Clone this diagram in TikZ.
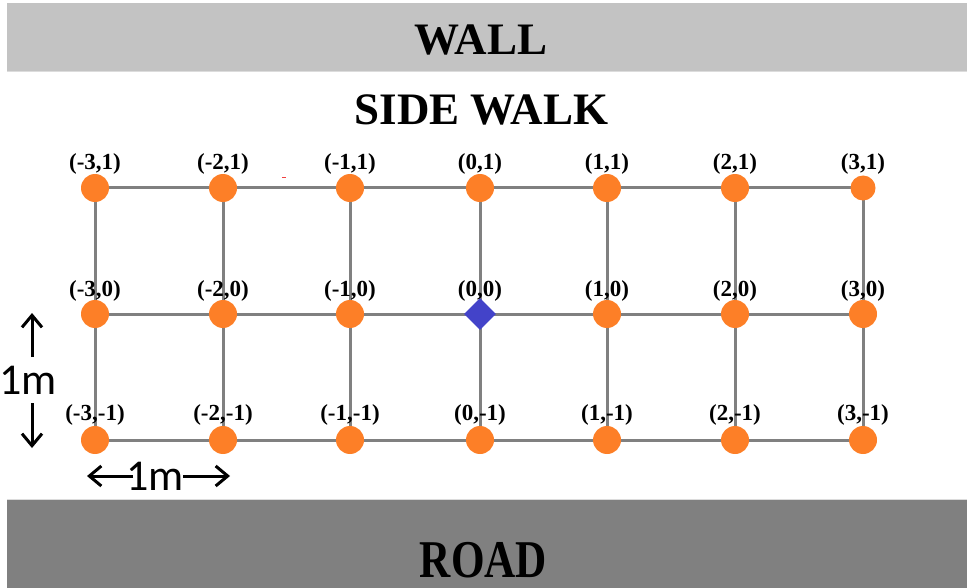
\documentclass[tikz,border=0pt]{standalone}
\usepackage{fontspec}
\setmainfont{Liberation Serif}
\newfontfamily\measfont{Carlito}
\usetikzlibrary{shapes.geometric,arrows.meta,backgrounds}

\definecolor{wallgray}{HTML}{C3C3C3}
\definecolor{roadgray}{HTML}{808080}
\definecolor{bandedge}{HTML}{DCDCDC}
\definecolor{gridgray}{HTML}{808080}
\definecolor{ptorange}{HTML}{FD7F27}
\definecolor{originblue}{HTML}{4343C9}
\definecolor{speck}{HTML}{F04040}

\begin{document}
\begin{tikzpicture}[x=1pt,y=-1pt,
  ptdot/.style={circle,fill=ptorange,inner sep=0pt,minimum size=28pt},
  ptsmall/.style={ptdot,minimum size=25pt},
  origin/.style={diamond,fill=originblue,inner sep=0pt,minimum width=32pt,minimum height=32pt},
  gridline/.style={draw=gridgray,line width=3pt},
  coordlbl/.style={font=\fontsize{23}{23}\selectfont\bfseries,anchor=base,inner sep=0pt},
  title/.style={font=\fontsize{45}{45}\selectfont\bfseries,anchor=base,inner sep=0pt},
  meas/.style={font=\measfont\fontsize{44}{44}\selectfont,inner sep=0pt},
  measarrow/.style={-{Straight Barb[length=12pt,width=20pt]},line width=3pt}
]
\useasboundingbox (0,0) rectangle (967,588);

% wall and road bands
\fill[wallgray] (7,3) rectangle (967,71);
\fill[bandedge] (7,71) rectangle (967,72.5);
\fill[bandedge] (7,498.5) rectangle (967,500);
\fill[roadgray] (7,500) rectangle (967,588);

\node[title] (wall) at (481,55) {WALL};
\node[title] (sidewalk) at (481.5,125) {SIDE WALK};
\node[title] (road) at (483.5,577) {\scalebox{0.96}[1.18]{ROAD}};

% grid points and their coordinate labels
\foreach \x [count=\i] in {95,223,350,480,607,735,863} {
  \foreach \y/\r/\d [count=\j] in {188/1/18,314/0/17,440/-1/20} {
    \pgfmathtruncatemacro\cv{\i-4}
    \ifnum\i\j=42 \def\shp{origin}\else
      \ifnum\i\j=71 \def\shp{ptsmall}\else\def\shp{ptdot}\fi
    \fi
    \node[\shp] (c\i-\j) at (\x,\y) {};
    \node[coordlbl] (l\i-\j) at (\x,\y-\d) {(\cv,\r)};
  }
}

% grid lines behind the points
\begin{scope}[on background layer]
  \foreach \j in {1,2,3} {
    \foreach \i [evaluate=\i as \k using int(\i+1)] in {1,...,6} {
      \draw[gridline] (c\i-\j.center) -- (c\k-\j.center);
    }
  }
  \foreach \i in {1,...,7} {
    \draw[gridline] (c\i-1.center) -- (c\i-2.center);
    \draw[gridline] (c\i-2.center) -- (c\i-3.center);
  }
\end{scope}

% small red mark
\fill[speck] (282,177) rectangle (286,178.5);

% scale markers
\node[meas] (vmeas) at (28,380) {1m};
\coordinate (vupfrom) at (32,357);
\coordinate (vupto) at (32,313);
\coordinate (vdnfrom) at (32,403);
\coordinate (vdnto) at (32,448);
\draw[measarrow] (vupfrom) -- (vupto);
\draw[measarrow] (vdnfrom) -- (vdnto);

\node[meas] (hmeas) at (155,476) {1m};
\coordinate (hlfrom) at (133,476);
\coordinate (hlto) at (87,476);
\coordinate (hrfrom) at (183,476);
\coordinate (hrto) at (230,476);
\draw[measarrow] (hlfrom) -- (hlto);
\draw[measarrow] (hrfrom) -- (hrto);
\end{tikzpicture}
\end{document}
